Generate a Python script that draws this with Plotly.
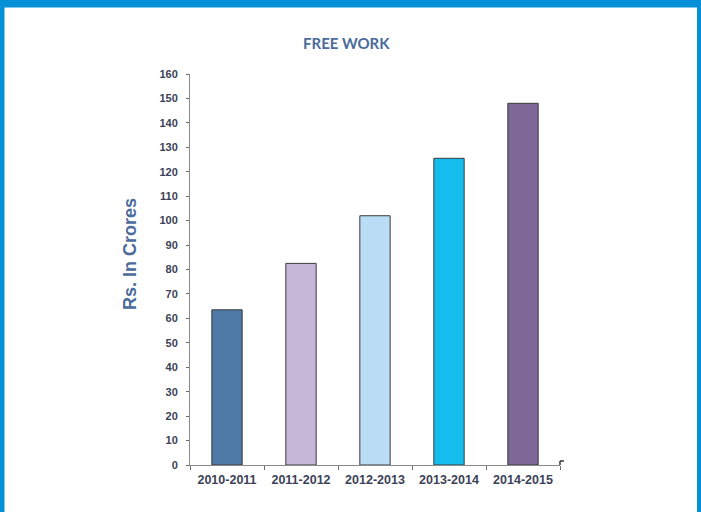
import plotly.graph_objects as go

categories = ["2010-2011", "2011-2012", "2012-2013", "2013-2014", "2014-2015"]
values = [63.5, 82.5, 102, 125.5, 148]
bar_colors = ["#4F79A6", "#C6B7D9", "#B8DDF4", "#13BEEE", "#7C6796"]
y_ticks = list(range(0, 161, 10))

W, H = 701, 512
L, R, T, B = 190, 560, 74, 465  # plot area in pixels


def px_x(p):
    return (p - L) / (R - L)


def px_y(p):
    return (B - p) / (B - T)


fig = go.Figure()
fig.add_trace(go.Bar(
    x=categories, y=values,
    marker=dict(color=bar_colors, line=dict(color="#3a3a3a", width=1)),
    width=0.41,
))

blue = "#0490D7"
shapes = [
    dict(type="rect", xref="paper", yref="paper", x0=px_x(-5), x1=px_x(W + 10), y0=px_y(-5), y1=px_y(7.5),
         fillcolor=blue, line=dict(width=0), layer="above"),
    dict(type="rect", xref="paper", yref="paper", x0=px_x(-5), x1=px_x(4.5), y0=px_y(-5), y1=px_y(H + 10),
         fillcolor=blue, line=dict(width=0), layer="above"),
    dict(type="rect", xref="paper", yref="paper", x0=px_x(697), x1=px_x(W + 10), y0=px_y(-5), y1=px_y(H + 10),
         fillcolor=blue, line=dict(width=0), layer="above"),
    dict(type="line", xref="paper", yref="paper", x0=px_x(560), x1=px_x(560), y0=px_y(465), y1=px_y(461),
         line=dict(color="#333", width=1.5)),
    dict(type="line", xref="paper", yref="paper", x0=px_x(560), x1=px_x(564), y0=px_y(461), y1=px_y(461),
         line=dict(color="#333", width=1.5)),
]

annotations = [
    dict(text="<b>FREE WORK</b>", xref="paper", yref="paper", x=px_x(346), y=px_y(43),
         showarrow=False, font=dict(family="Lato, Open Sans, sans-serif", size=15, color="#4A6B9B"),
         xanchor="center", yanchor="middle"),
    dict(text="<b>Rs. In Crores</b>", xref="paper", yref="paper", x=px_x(130), y=px_y(254),
         showarrow=False, textangle=-90,
         font=dict(family="Liberation Sans, Arial, sans-serif", size=18, color="#4A6B9B"),
         xanchor="center", yanchor="middle"),
]

fig.update_layout(
    width=W, height=H,
    margin=dict(l=L, r=W - R, t=T, b=H - B, pad=0),
    paper_bgcolor="white", plot_bgcolor="white",
    showlegend=False,
    bargap=0.59,
    shapes=shapes,
    annotations=annotations,
    font=dict(family="Liberation Sans, Arial, sans-serif", color="#3B4257"),
)
fig.update_xaxes(
    showgrid=False, showline=True, linecolor="#8a8a8a", linewidth=1,
    ticks="outside", tickson="boundaries", ticklen=4, tickcolor="#6a6a6a",
    tickfont=dict(size=12.5, color="#3B4257", family="Liberation Sans, Arial, sans-serif", weight="bold"),
    ticklabelstandoff=3,
)
fig.update_yaxes(
    range=[0, 160], tickvals=y_ticks, showgrid=False, zeroline=False,
    showline=True, linecolor="#8a8a8a", linewidth=1,
    ticks="outside", ticklen=3, tickcolor="#6a6a6a",
    tickfont=dict(size=11, color="#3B4257", family="Liberation Sans, Arial, sans-serif", weight="bold"),
    ticklabelstandoff=6,
)

fig.write_html(
    "out.html",
    config={"displayModeBar": False},
    post_script=(
        "document.body.style.margin='0';document.body.style.overflow='hidden';"
        "document.body.style.background='#0490D7';"
        "document.documentElement.style.background='#0490D7';"
    ),
)
